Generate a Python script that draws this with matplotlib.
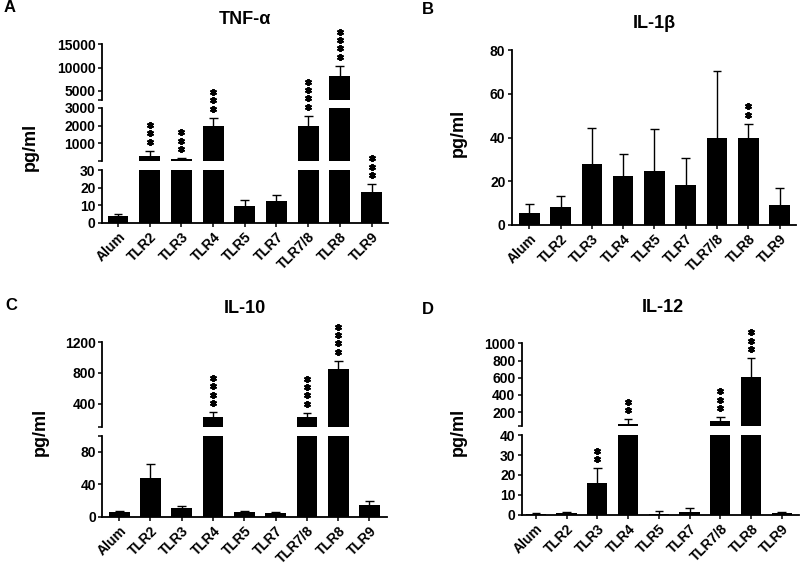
import matplotlib
matplotlib.use('Agg')
import matplotlib.pyplot as plt
import matplotlib.transforms as mtransforms
import numpy as np

plt.rcParams['font.family'] = ['Liberation Sans', 'DejaVu Sans']
plt.rcParams['font.weight'] = 'bold'

# Data (mean, error bar, number of stars)
categories = ['Alum', 'TLR2', 'TLR3', 'TLR4', 'TLR5', 'TLR7', 'TLR7/8', 'TLR8', 'TLR9']

tnf_mean = [3.8, 300, 120, 2000, 9.5, 12.5, 1950, 8200, 17.7]
tnf_err = [1.0, 290, 50, 450, 3.4, 3.3, 600, 2170, 4.2]
tnf_stars = [0, 3, 3, 3, 0, 0, 4, 4, 3]

il1b_mean = [5.5, 8.3, 28, 22.3, 24.8, 18.3, 40, 40, 9.1]
il1b_err = [4.1, 4.8, 16.2, 10.3, 19, 12.6, 30.5, 6.3, 7.7]
il1b_stars = [0, 0, 0, 0, 0, 0, 0, 2, 0]

il10_mean = [6, 48, 10.5, 225, 6, 4.5, 220, 850, 15]
il10_err = [1.5, 17, 3, 65, 1.5, 1, 60, 110, 5]
il10_stars = [0, 0, 0, 4, 0, 0, 4, 4, 0]

il12_mean = [0.5, 0.8, 15.8, 68, 0.5, 1.2, 100, 610, 0.8]
il12_err = [0.4, 0.4, 7.5, 50, 1.3, 2, 42, 220, 0.6]
il12_stars = [0, 0, 2, 2, 0, 0, 3, 3, 0]

W, H = 800, 568
fig = plt.figure(figsize=(W / 100, H / 100), dpi=100)


def px_axes(left, top, right, bottom):
    return fig.add_axes([left / W, 1 - bottom / H, (right - left) / W, (bottom - top) / H])


def draw_panel(letter, title, means, errs, stars, xpx, xlim, segments, title_xy, letter_xy, ylabel_xy):
    x = np.arange(len(categories))
    means = np.array(means, dtype=float)
    tips = means + np.array(errs, dtype=float)
    cap = 0.14
    for k, (top, bot, lo, hi, ticks) in enumerate(segments):
        ax = px_axes(xpx[0], top, xpx[1], bot)
        ax.patch.set_visible(False)
        # only what reaches into this segment of the broken axis
        mb = means > lo
        me = tips > lo
        ax.bar(x[mb], means[mb], width=0.66, color='black')
        ax.vlines(x[me], np.maximum(means[me], lo), tips[me], color='black', linewidth=1.0)
        ax.hlines(tips[me], x[me] - cap, x[me] + cap, color='black', linewidth=1.0)
        ax.set_xlim(*xlim)
        ax.set_ylim(lo, hi)
        for s in ['top', 'right']:
            ax.spines[s].set_visible(False)
        ax.spines['left'].set_linewidth(1.3)
        ax.set_yticks(ticks)
        ax.set_yticklabels([str(t) for t in ticks])
        bounds = [b for b in (lo, hi) if b not in ticks]
        ax.set_yticks(bounds, minor=True)
        ax.tick_params(axis='y', which='both', direction='out', length=3, width=1.1,
                       labelsize=10, pad=1.5)
        if k == 0:
            ax.spines['bottom'].set_linewidth(1.3)
            ax.set_xticks(x)
            ax.set_xticklabels(categories, rotation=45, ha='right', rotation_mode='anchor')
            ax.tick_params(axis='x', direction='out', length=3, width=1.1, labelsize=10, pad=2)
        else:
            ax.spines['bottom'].set_visible(False)
            ax.set_xticks([])

        # significance stars above the error bar, in the segment that holds it
        for i, n in enumerate(stars):
            if n == 0 or not (lo <= tips[i] <= hi):
                continue
            for j in range(n):
                dy = (9 + j * 8.4) / 100
                tr = ax.transData + mtransforms.ScaledTranslation(0, dy, fig.dpi_scale_trans)
                ax.plot([i], [tips[i]], marker=(6, 2, 0), markersize=5, markeredgewidth=1.4,
                        color='black', transform=tr, clip_on=False, zorder=5)

    fig.text(title_xy[0] / W, 1 - title_xy[1] / H, title, ha='center', va='center', fontsize=13)
    fig.text(letter_xy[0] / W, 1 - letter_xy[1] / H, letter, ha='center', va='center', fontsize=12)
    fig.text(ylabel_xy[0] / W, 1 - ylabel_xy[1] / H, 'pg/ml', ha='center', va='center',
             fontsize=13, rotation=90)


draw_panel('A', 'TNF-\u03b1', tnf_mean, tnf_err, tnf_stars,
           (101.7, 388), (-0.514, 8.52),
           [(170, 222.7, 0, 30, [0, 10, 20, 30]),
            (107.7, 160.7, 30, 3000, [1000, 2000, 3000]),
            (44.3, 100, 3000, 15000, [5000, 10000, 15000])],
           (245, 20), (10, 8), (30, 147))

draw_panel('B', 'IL-1\u03b2', il1b_mean, il1b_err, il1b_stars,
           (511.7, 796), (-0.56, 8.52),
           [(50.3, 225, 0, 80, [0, 20, 40, 60, 80])],
           (654, 24), (428, 9), (458, 133))

draw_panel('C', 'IL-10', il10_mean, il10_err, il10_stars,
           (102.3, 387), (-0.54, 8.56),
           [(435.7, 516.7, 0, 100, [0, 40, 80]),
            (342.3, 426.7, 100, 1200, [400, 800, 1200])],
           (245, 308), (11, 305), (40, 432))

draw_panel('D', 'IL-12', il12_mean, il12_err, il12_stars,
           (521.7, 799), (-0.46, 8.56),
           [(435.3, 514.5, 0, 40, [0, 10, 20, 30, 40]),
            (343.3, 426, 40, 1000, [200, 400, 600, 800, 1000])],
           (663, 307), (428, 309), (458, 432))

fig.savefig('out.png', dpi=100)
